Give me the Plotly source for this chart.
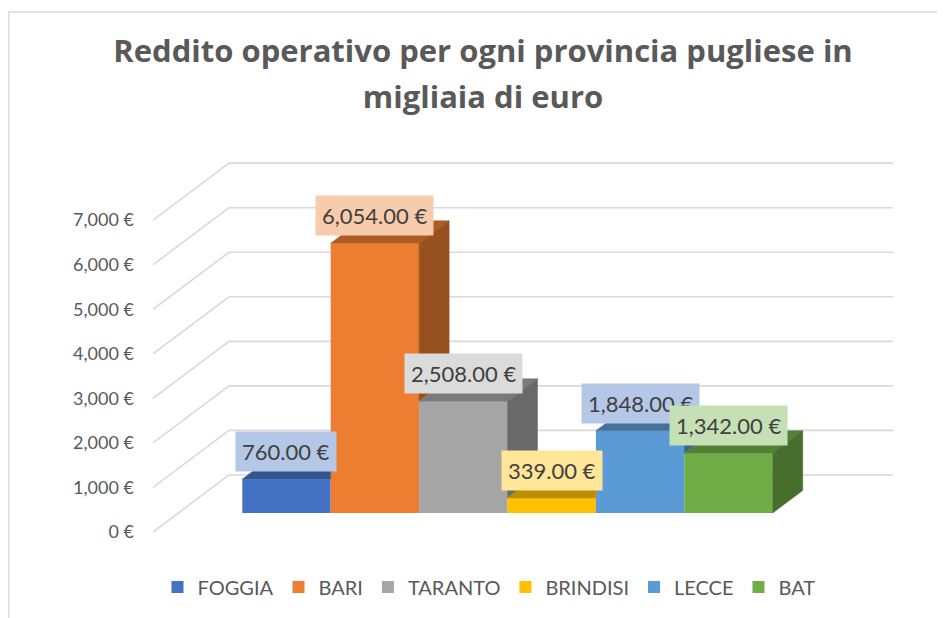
import plotly.graph_objects as go

# ---- data ----
categories = ["FOGGIA", "BARI", "TARANTO", "BRINDISI", "LECCE", "BAT"]
values = [760, 6054, 2508, 339, 1848, 1342]
tick_values = [0, 1000, 2000, 3000, 4000, 5000, 6000, 7000]
tick_labels = [f"{t:,} €" for t in tick_values]
title_lines = ["Reddito operativo per ogni provincia pugliese in", "migliaia di euro"]

# ---- styles ----
front_colors = ["#4472C4", "#ED7D31", "#A5A5A5", "#FFC000", "#5B9BD5", "#70AD47"]
label_colors = ["#B4C7E7", "#F8CBAD", "#DBDBDB", "#FFE699", "#B4C7E7", "#C5E0B4"]
FONT = "Lato"
GRID = "#D9D9D9"

# page has an 8px body margin -> figure fills the rest of the window
W, H = 937, 610
ML, MR, MT, MB = 145, 45, 142, 73

# pseudo-3D geometry (in axis units)
DEPTH_X, DEPTH_Y = 0.86, 1280.0          # full depth of the side wall
BAR_FRONT, BAR_BACK = 0.333, 0.728       # depth fractions of the bars
BASE = BAR_FRONT * DEPTH_Y               # front-face floor level
BDX = (BAR_BACK - BAR_FRONT) * DEPTH_X
BDY = (BAR_BACK - BAR_FRONT) * DEPTH_Y
X0 = -1.51                               # left edge of the front plane
XRANGE = [X0, 6.94]
YRANGE = [-292, 8575]
WALL_RIGHT = 6.861


def shade(hexc, f):
    h = hexc.lstrip("#")
    r, g, b = (int(h[k:k + 2], 16) for k in (0, 2, 4))
    return "#%02X%02X%02X" % (int(r * f), int(g * f), int(b * f))


fig = go.Figure()

# front faces (real bars)
for i, (cat, v) in enumerate(zip(categories, values)):
    fig.add_trace(go.Bar(
        x=[i], y=[v], base=[BASE], width=[1], name=cat,
        marker=dict(color=front_colors[i], line=dict(width=0)),
        hoverinfo="skip",
    ))

# top and side faces
n = len(values)
for i, v in enumerate(values):
    xl, xr = i - 0.5, i + 0.5
    top = BASE + v
    h_next = BASE + values[i + 1] if i + 1 < n else BASE
    if h_next > top:
        if h_next >= top + BDY:
            tx = [xl, xr, xr, xl + BDX, xl]
            ty = [top, top, top + BDY, top + BDY, top]
        else:
            xc = xr + BDX * (top + BDY - h_next) / BDY
            tx = [xl, xr, xr, xc, xl + BDX, xl]
            ty = [top, top, h_next, top + BDY, top + BDY, top]
    else:
        tx = [xl, xr, xr + BDX, xl + BDX, xl]
        ty = [top, top, top + BDY, top + BDY, top]
    ctop = shade(front_colors[i], 0.74)
    fig.add_trace(go.Scatter(x=tx, y=ty, fill="toself", fillcolor=ctop, mode="lines",
                             line=dict(color=ctop, width=0.5), showlegend=False, hoverinfo="skip"))
    lo = max(BASE, h_next)
    if lo < top:
        cside = shade(front_colors[i], 0.64)
        sx = [xr, xr, xr + BDX, xr + BDX, xr]
        sy = [lo, top, top + BDY, lo + BDY, lo]
        fig.add_trace(go.Scatter(x=sx, y=sy, fill="toself", fillcolor=cside, mode="lines",
                                 line=dict(color=cside, width=0.5), showlegend=False, hoverinfo="skip"))

# walls' gridlines
shapes = []
for t in tick_values:
    shapes.append(dict(type="line", xref="x", yref="y", x0=X0, y0=t,
                       x1=X0 + DEPTH_X, y1=t + DEPTH_Y, layer="below",
                       line=dict(color=GRID, width=1.6)))
    shapes.append(dict(type="line", xref="x", yref="y", x0=X0 + DEPTH_X, y0=t + DEPTH_Y,
                       x1=WALL_RIGHT, y1=t + DEPTH_Y, layer="below",
                       line=dict(color=GRID, width=1.6)))

# chart-area border
pw, ph = W - ML - MR, H - MT - MB
shapes.append(dict(type="rect", xref="paper", yref="paper",
                   x0=(0.8 - ML) / pw, x1=(960 - ML) / pw,
                   y0=(H - MB - 640) / ph, y1=(H - MB - 4) / ph,
                   line=dict(color="#D9D9D9", width=1.3), fillcolor="rgba(0,0,0,0)",
                   layer="below"))

# data labels
annotations = []
for i, v in enumerate(values):
    annotations.append(dict(
        x=i, y=BASE + v, xref="x", yref="y", text=f"{v:,.2f} €",
        showarrow=False, yanchor="bottom", xanchor="center", yshift=7,
        bgcolor=label_colors[i], borderpad=6,
        font=dict(family=FONT, size=22, color="#404040"),
    ))

title_text = "<br>".join(f"<span style='font-size:31px'>{t}</span>" for t in title_lines)

fig.update_layout(
    width=W, height=H,
    margin=dict(l=ML, r=MR, t=MT, b=MB),
    paper_bgcolor="white", plot_bgcolor="rgba(0,0,0,0)",
    barmode="overlay",
    title=dict(text=title_text, x=475 / W, xanchor="center", y=1 - 54 / H, yanchor="top",
               font=dict(family="Open Sans", size=35, color="#595959", weight="bold")),
    xaxis=dict(range=XRANGE, visible=False, fixedrange=True),
    yaxis=dict(range=YRANGE, tickvals=tick_values, ticktext=tick_labels,
               showgrid=False, zeroline=False, showline=False, ticks="",
               ticklabelstandoff=18,
               tickfont=dict(family=FONT, size=18, color="#595959"), fixedrange=True),
    legend=dict(orientation="h", x=(481 - ML) / pw, xanchor="center",
                y=-(579 - (H - MB)) / ph, yanchor="middle",
                font=dict(family=FONT, size=20, color="#595959"),
                itemclick=False, itemdoubleclick=False),
    shapes=shapes,
    annotations=annotations,
    showlegend=True,
)

fig.write_html("out.html")
